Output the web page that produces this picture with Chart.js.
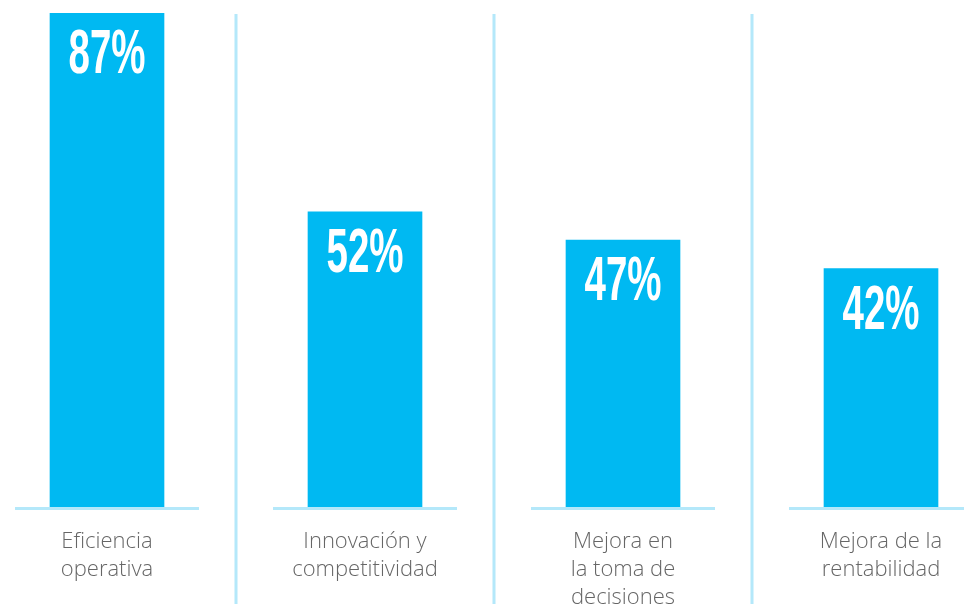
<!DOCTYPE html>
<html lang="es">
<head>
<meta charset="utf-8">
<script src="https://cdn.jsdelivr.net/npm/chart.js@4.4.1/dist/chart.umd.min.js"></script>
<style>
  html, body { margin: 0; padding: 0; background: #fff; overflow: hidden; }
  #marco { position: absolute; left: -22px; top: 0; width: 1032px; height: 604px; }
</style>
</head>
<body>
<div id="marco"><canvas id="grafico" width="1032" height="604"></canvas></div>
<script>
// Datos
const categorias = [
  ['Eficiencia', 'operativa'],
  ['Innovación y', 'competitividad'],
  ['Mejora en', 'la toma de', 'decisiones'],
  ['Mejora de la', 'rentabilidad']
];
const porcentajes = [87, 52, 47, 42];

const AZUL = '#00b9f2';
const AZUL_CLARO = '#b4e8fa';

// Separadores verticales y líneas base bajo cada barra
const lineasFondo = {
  id: 'lineasFondo',
  afterDatasetsDraw(chart) {
    const { ctx, chartArea, scales: { x } } = chart;
    ctx.save();
    ctx.strokeStyle = AZUL_CLARO;
    ctx.lineWidth = 3;
    for (let i = 0; i < categorias.length - 1; i++) {
      const xm = (x.getPixelForValue(i) + x.getPixelForValue(i + 1)) / 2;
      ctx.beginPath();
      ctx.moveTo(xm, chartArea.top + 1);
      ctx.lineTo(xm, chart.height);
      ctx.stroke();
    }
    for (let i = 0; i < categorias.length; i++) {
      const xc = x.getPixelForValue(i);
      ctx.beginPath();
      ctx.moveTo(xc - 92, chartArea.bottom + 1.5);
      ctx.lineTo(xc + 92, chartArea.bottom + 1.5);
      ctx.stroke();
    }
    ctx.restore();
  }
};

// Porcentaje en blanco dentro de la parte alta de cada barra
const valores = {
  id: 'valores',
  afterDatasetsDraw(chart) {
    const { ctx } = chart;
    const meta = chart.getDatasetMeta(0);
    ctx.save();
    ctx.fillStyle = '#ffffff';
    ctx.font = 'bold 63px "Liberation Sans", Arial, sans-serif';
    ctx.textAlign = 'center';
    ctx.textBaseline = 'alphabetic';
    meta.data.forEach((barra, i) => {
      ctx.save();
      ctx.translate(barra.x, barra.y + 60);
      ctx.scale(0.61, 1);
      ctx.fillText(porcentajes[i] + '%', 0, 0);
      ctx.restore();
    });
    ctx.restore();
  }
};

new Chart(document.getElementById('grafico'), {
  type: 'bar',
  data: {
    labels: categorias,
    datasets: [{
      data: porcentajes,
      backgroundColor: AZUL,
      borderWidth: 0,
      barThickness: 114
    }]
  },
  options: {
    responsive: false,
    animation: false,
    layout: { padding: { top: 13, left: 0, right: 0, bottom: 0 } },
    plugins: { legend: { display: false }, tooltip: { enabled: false } },
    scales: {
      x: {
        grid: { display: false, drawTicks: false },
        border: { display: false },
        ticks: {
          color: '#666666',
          font: { family: '"Open Sans"', size: 22, weight: '300', lineHeight: 1.27 },
          padding: 21,
          maxRotation: 0,
          autoSkip: false
        },
        afterFit(scale) { scale.height = 97; }
      },
      y: { display: false, min: 0, max: Math.max(...porcentajes) }
    }
  },
  plugins: [lineasFondo, valores]
});
</script>
</body>
</html>
